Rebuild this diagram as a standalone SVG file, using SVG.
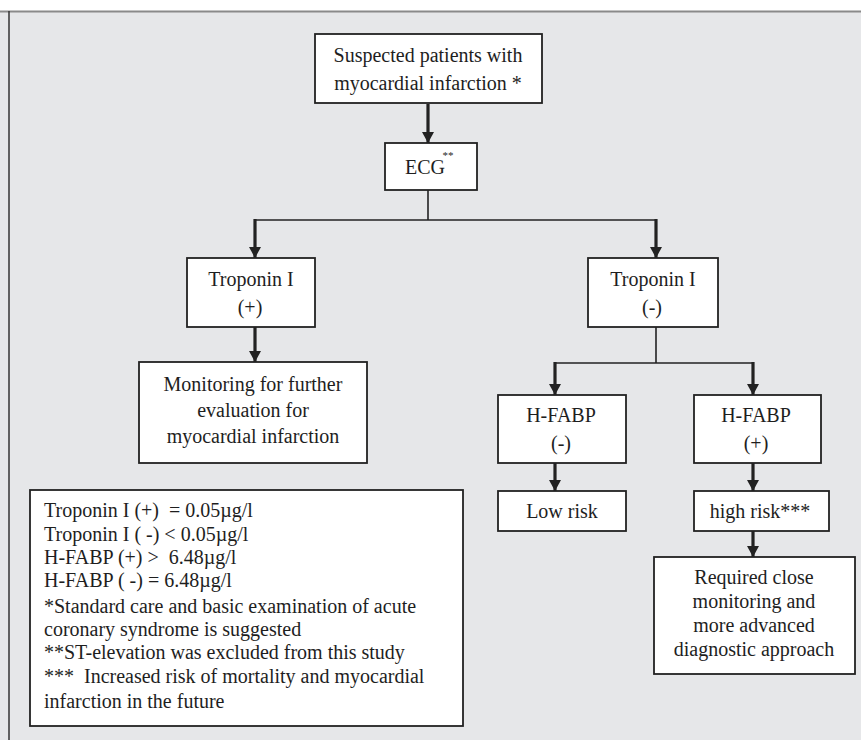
<svg xmlns="http://www.w3.org/2000/svg" width="861" height="740" viewBox="0 0 861 740">
<defs>
<style>
.bx{fill:#ffffff;stroke:#222222;stroke-width:1.8}
.t{font-family:"Liberation Serif","Times New Roman",serif;font-size:20px;fill:#1e1e1e;text-anchor:middle}
.lg{font-family:"Liberation Serif","Times New Roman",serif;font-size:20px;fill:#1e1e1e;white-space:pre}
.thin{fill:none;stroke:#222222;stroke-width:1.6}
.thick{fill:none;stroke:#222222;stroke-width:3.2;marker-end:url(#ah)}
</style>
<marker id="ah" markerUnits="userSpaceOnUse" markerWidth="12" markerHeight="12" refX="11" refY="6" orient="auto">
<path d="M0,0 L11,6 L0,12 z" fill="#222222"/>
</marker>
</defs>
<rect x="0" y="0" width="861" height="740" fill="#e6e7e9"/>
<rect x="0" y="0" width="861" height="11" fill="#ffffff"/>
<line x1="0" y1="11.5" x2="861" y2="11.5" stroke="#8a8a8a" stroke-width="2"/>
<line x1="9" y1="11" x2="9" y2="740" stroke="#333333" stroke-width="1.5"/>

<g id="connectors">
<line class="thick" x1="428" y1="104" x2="428" y2="143"/>
<polyline class="thin" points="428,190 428,220"/>
<polyline class="thin" points="255,220 656,220"/>
<line class="thick" x1="255" y1="219" x2="255" y2="258"/>
<line class="thick" x1="656" y1="219" x2="656" y2="258"/>
<line class="thick" x1="255" y1="327" x2="255" y2="362"/>
<polyline class="thin" points="656,327 656,363"/>
<polyline class="thin" points="555,363 753,363"/>
<line class="thick" x1="555" y1="362" x2="555" y2="395"/>
<line class="thick" x1="753" y1="362" x2="753" y2="395"/>
<line class="thick" x1="555" y1="463" x2="555" y2="491"/>
<line class="thick" x1="753" y1="463" x2="753" y2="491"/>
<line class="thick" x1="753" y1="531" x2="753" y2="557"/>
</g>

<g id="suspected">
<rect class="bx" x="315" y="34" width="227" height="69"/>
<text class="t" x="428" y="62">Suspected patients with</text>
<text class="t" x="428" y="90">myocardial infarction *</text>
</g>

<g id="ecg">
<rect class="bx" x="385" y="143" width="92" height="47"/>
<text class="t" x="425" y="174">ECG</text>
<text class="t" x="448" y="159" style="font-size:11px">**</text>
</g>

<g id="tropPos">
<rect class="bx" x="187" y="258" width="128" height="69"/>
<text class="t" x="251" y="286">Troponin I</text>
<text class="t" x="250" y="314">(+)</text>
</g>

<g id="tropNeg">
<rect class="bx" x="588" y="258" width="130" height="69"/>
<text class="t" x="653" y="286">Troponin I</text>
<text class="t" x="652" y="314">(-)</text>
</g>

<g id="monitoring">
<rect class="bx" x="139" y="362" width="228" height="101"/>
<text class="t" x="253" y="391">Monitoring for further</text>
<text class="t" x="253" y="417">evaluation for</text>
<text class="t" x="253" y="443">myocardial infarction</text>
</g>

<g id="hfabpNeg">
<rect class="bx" x="498" y="395" width="128" height="68"/>
<text class="t" x="561" y="422">H-FABP</text>
<text class="t" x="561" y="450">(-)</text>
</g>

<g id="hfabpPos">
<rect class="bx" x="694" y="395" width="127" height="68"/>
<text class="t" x="756" y="422">H-FABP</text>
<text class="t" x="756" y="450">(+)</text>
</g>

<g id="lowRisk">
<rect class="bx" x="498" y="491" width="128" height="40"/>
<text class="t" x="562" y="518">Low risk</text>
</g>

<g id="highRisk">
<rect class="bx" x="694" y="491" width="135" height="40"/>
<text class="t" x="760" y="518">high risk***</text>
</g>

<g id="required">
<rect class="bx" x="654" y="557" width="201" height="117"/>
<text class="t" x="754" y="584">Required close</text>
<text class="t" x="754" y="608">monitoring and</text>
<text class="t" x="754" y="632">more advanced</text>
<text class="t" x="754" y="656">diagnostic approach</text>
</g>

<g id="legend">
<rect class="bx" x="30" y="490" width="433" height="236"/>
<text class="lg" x="44" y="517">Troponin I (+)  = 0.05µg/l</text>
<text class="lg" x="44" y="541">Troponin I ( -) &lt; 0.05µg/l</text>
<text class="lg" x="44" y="564">H-FABP (+) &gt;  6.48µg/l</text>
<text class="lg" x="44" y="587">H-FABP ( -) = 6.48µg/l</text>
<text class="lg" x="44" y="613">*Standard care and basic examination of acute</text>
<text class="lg" x="44" y="636">coronary syndrome is suggested</text>
<text class="lg" x="44" y="659">**ST-elevation was excluded from this study</text>
<text class="lg" x="44" y="683">***  Increased risk of mortality and myocardial</text>
<text class="lg" x="44" y="708">infarction in the future</text>
</g>
</svg>
